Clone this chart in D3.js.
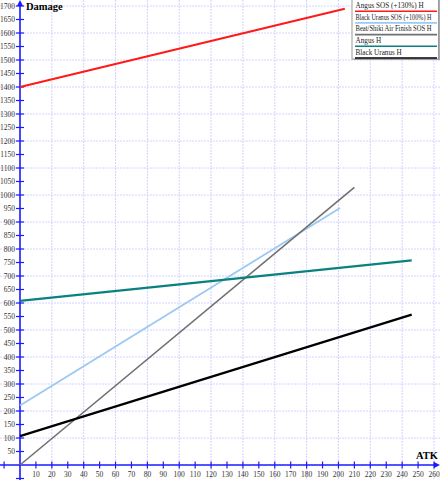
<!DOCTYPE html>
<html>
<head>
<meta charset="utf-8">
<script src="https://cdn.jsdelivr.net/npm/d3@7"></script>
<style>
  body { margin: 0; background: #fff; }
  svg { display: block; font-family: "Liberation Serif", "DejaVu Serif", serif; }
</style>
</head>
<body>
<main></main>
<script>
const width = 440;
const height = 480;

// series names (legend order)
const seriesNames = ['Angus SOS (+130%) H', 'Black Uranus SOS (+100%) H', 'Beat/Shiki Air Finish SOS H', 'Angus H', 'Black Uranus H'];
const seriesColors = ['#ff1a1a', '#9cc8f2', '#707070', '#0a8080', '#000000'];

// [ATK, Damage] points for each line
const angusSOS = [[0, 1400], [204, 1690]];
const blackUranusSOS = [[0, 220], [201, 952]];
const beatShikiSOS = [[0, 0], [210, 1028]];
const angusH = [[0, 608], [246, 758]];
const blackUranusH = [[0, 107], [246, 557]];
const seriesData = [angusSOS, blackUranusSOS, beatShikiSOS, angusH, blackUranusH];
const seriesWidth = [2.2, 1.8, 1.6, 2.2, 2.2];

const xTicks = d3.range(10, 261, 10);
const yTicks = d3.range(50, 1701, 50);
const xGrid = d3.range(20, 261, 20);
const yGrid = d3.range(100, 1701, 100);

const xScale = d3.scaleLinear().domain([0, 260]).range([20, 434]);
const yScale = d3.scaleLinear().domain([0, 1700]).range([465, 6]);

const svg = d3.select('main').append('svg')
  .attr('width', width)
  .attr('height', height);

// grid
svg.append('g').selectAll('line')
  .data(xGrid).enter().append('line')
  .attr('x1', d => xScale(d)).attr('x2', d => xScale(d))
  .attr('y1', 0).attr('y2', height)
  .attr('stroke', '#d2d2ff').attr('stroke-width', 1).attr('stroke-dasharray', '2,1');
svg.append('g').selectAll('line')
  .data(yGrid).enter().append('line')
  .attr('y1', d => yScale(d)).attr('y2', d => yScale(d))
  .attr('x1', 0).attr('x2', width)
  .attr('stroke', '#d2d2ff').attr('stroke-width', 1).attr('stroke-dasharray', '2,1');

// axes lines
const axisColor = '#1a1aff';
svg.append('line')
  .attr('x1', 0).attr('x2', width - 2)
  .attr('y1', yScale(0)).attr('y2', yScale(0))
  .attr('stroke', axisColor).attr('stroke-width', 1.6);
svg.append('line')
  .attr('x1', xScale(0)).attr('x2', xScale(0))
  .attr('y1', 2).attr('y2', height)
  .attr('stroke', axisColor).attr('stroke-width', 1.6);

// arrow heads
svg.append('path')
  .attr('d', `M${width},${yScale(0)} L${width - 6},${yScale(0) - 3} L${width - 6},${yScale(0) + 3} Z`)
  .attr('fill', axisColor);
svg.append('path')
  .attr('d', `M${xScale(0)},0 L${xScale(0) - 3},6 L${xScale(0) + 3},6 Z`)
  .attr('fill', axisColor);

// ticks
svg.append('g').selectAll('line')
  .data([-10].concat(xTicks)).enter().append('line')
  .attr('x1', d => xScale(d)).attr('x2', d => xScale(d))
  .attr('y1', yScale(0) - 3.5).attr('y2', yScale(0) + 3.5)
  .attr('stroke', axisColor).attr('stroke-width', 1.2);
svg.append('g').selectAll('line')
  .data([-50].concat(yTicks)).enter().append('line')
  .attr('y1', d => yScale(d)).attr('y2', d => yScale(d))
  .attr('x1', xScale(0) - 4).attr('x2', xScale(0) + 4)
  .attr('stroke', axisColor).attr('stroke-width', 1.2);

// tick labels
svg.append('g').selectAll('text')
  .data(xTicks).enter().append('text')
  .attr('x', d => xScale(d))
  .attr('y', yScale(0) + 12)
  .attr('text-anchor', 'middle')
  .attr('font-size', 7.5)
  .attr('fill', '#333')
  .text(d => d);
svg.append('g').selectAll('text')
  .data(yTicks).enter().append('text')
  .attr('x', xScale(0) - 5)
  .attr('y', d => yScale(d) + 2.5)
  .attr('text-anchor', 'end')
  .attr('font-size', 7.5)
  .attr('fill', '#333')
  .text(d => d);

// axis titles
svg.append('text')
  .attr('x', 26).attr('y', 10)
  .attr('font-size', 10.5).attr('font-weight', 'bold')
  .text('Damage');
svg.append('text')
  .attr('x', 438).attr('y', yScale(0) - 6)
  .attr('text-anchor', 'end')
  .attr('font-size', 10.5).attr('font-weight', 'bold')
  .text('ATK');

// series lines
const line = d3.line().x(d => xScale(d[0])).y(d => yScale(d[1]));
svg.append('g').selectAll('path')
  .data(seriesData).enter().append('path')
  .attr('d', d => line(d))
  .attr('fill', 'none')
  .attr('stroke', (d, i) => seriesColors[i])
  .attr('stroke-width', (d, i) => seriesWidth[i]);

// legend
const legend = svg.append('g').attr('transform', 'translate(352,0)');
legend.append('rect')
  .attr('x', 1.5).attr('y', -1)
  .attr('width', 87).attr('height', 61)
  .attr('fill', '#aaa');
legend.append('rect')
  .attr('x', 0).attr('y', -1)
  .attr('width', 86.5).attr('height', 60)
  .attr('fill', '#fff')
  .attr('stroke', '#9a9a9a').attr('stroke-width', 1);

const rowScale = d3.scaleLinear().domain([0, 5]).range([0, 58.5]);
const item = legend.selectAll('g.item')
  .data(seriesNames).enter().append('g')
  .attr('class', 'item')
  .attr('transform', (d, i) => `translate(0,${rowScale(i)})`);
item.append('text')
  .attr('font-size', 7.2)
  .attr('fill', '#222')
  .text(d => d)
  .each(function () {
    // squeeze the longest names horizontally so they fit inside the box
    const w = this.getComputedTextLength();
    const k = Math.min(1, 76 / w);
    d3.select(this).attr('transform', `translate(3.5,8) scale(${k},1)`);
  });
item.append('line')
  .attr('x1', 3).attr('x2', 85)
  .attr('y1', 11.2).attr('y2', 11.2)
  .attr('stroke', (d, i) => seriesColors[i])
  .attr('stroke-width', 1.6);
</script>
</body>
</html>
